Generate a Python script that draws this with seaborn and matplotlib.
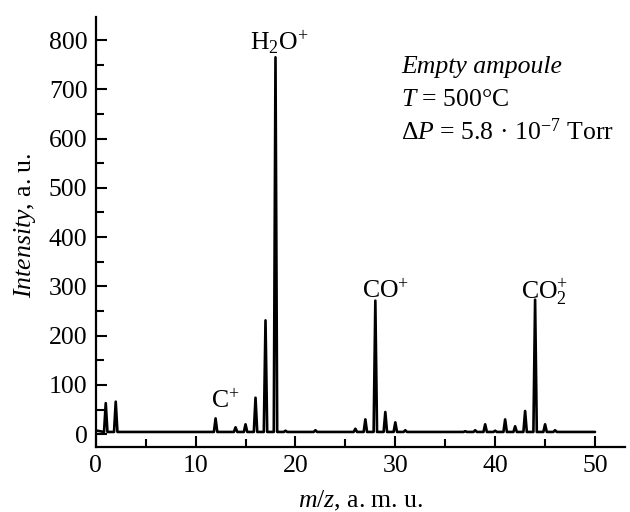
import numpy as np
import pandas as pd
import seaborn as sns
import matplotlib.pyplot as plt
from matplotlib.ticker import MultipleLocator

# peak positions (m/z) and peak heights (a. u.)
peak_mz = [1, 2, 12, 14, 15, 16, 17, 18, 19, 22, 26, 27, 28, 29, 30, 31,
           37, 38, 39, 40, 41, 42, 43, 44, 45, 46]
peak_height = [63, 66, 32, 14, 20, 74, 231, 765, 7, 8, 11, 30, 271, 45, 24, 8,
               6, 8, 20, 7, 30, 16, 47, 273, 20, 8]
baseline = 4.5
mz_start, mz_end = 0, 50

sns.set_theme(style="ticks")
plt.rcParams["font.family"] = ["Liberation Serif", "DejaVu Serif"]
plt.rcParams["mathtext.fontset"] = "custom"
plt.rcParams["mathtext.rm"] = "Liberation Serif"
plt.rcParams["mathtext.it"] = "Liberation Serif:italic"
for key in ["text.color", "axes.labelcolor", "xtick.color", "ytick.color",
            "axes.edgecolor"]:
    plt.rcParams[key] = "black"

# the trace: baseline with narrow peaks, each peak = base -> top -> base
xs = [mz_start]
ys = [baseline + 3]
for m, h in zip(peak_mz, peak_height):
    xs += [m - 0.17, m, m + 0.17]
    ys += [baseline, h, baseline]
xs.append(mz_end)
ys.append(baseline)
df = pd.DataFrame({"mz": xs, "intensity": ys})

fs = 18.5
fig = plt.figure(figsize=(6.3, 5.12), dpi=100)
ax = fig.add_axes([0.152, 0.127, 0.84, 0.84])
sns.lineplot(data=df, x="mz", y="intensity", color="black", linewidth=1.9, ax=ax)

ax.set_xlim(0, 53)
ax.set_ylim(-26, 847)
ax.xaxis.set_major_locator(MultipleLocator(10))
ax.xaxis.set_minor_locator(MultipleLocator(5))
ax.yaxis.set_major_locator(MultipleLocator(100))
ax.yaxis.set_minor_locator(MultipleLocator(50))
ax.tick_params(which="both", direction="in", labelsize=fs, width=1.5, pad=6)
ax.tick_params(which="major", length=8)
ax.tick_params(which="minor", length=6)
ax.set_xticks(range(0, 51, 10))
for s in ["top", "right"]:
    ax.spines[s].set_visible(False)
for s in ["left", "bottom"]:
    ax.spines[s].set_linewidth(1.6)

ax.set_xlabel(r"$m/z$, a. m. u.", fontsize=fs)
ax.set_ylabel(r"$Intensity$, a. u.", fontsize=fs)
ax.xaxis.set_label_coords(0.5, -0.098)
ax.yaxis.set_label_coords(-0.11, 0.516)

ax.text(18.4, 781, r"H$_2$O$^{+}$", fontsize=fs, ha="center", va="baseline")
ax.text(13.0, 53, r"C$^{+}$", fontsize=fs, ha="center", va="baseline")
ax.text(29.0, 275, r"CO$^{+}$", fontsize=fs, ha="center", va="baseline")
ax.text(45.0, 275, r"CO$_2^{+}$", fontsize=fs, ha="center", va="baseline")

ax.text(30.6, 733, "Empty ampoule", fontsize=fs, style="italic", va="baseline")
ax.text(30.6, 666, r"$T$ = 500°C", fontsize=fs, va="baseline")
ax.text(30.6, 597, r"$\Delta P$ = 5.8 · 10$^{-7}$ Torr", fontsize=fs, va="baseline")

fig.savefig("out.png", dpi=100)
